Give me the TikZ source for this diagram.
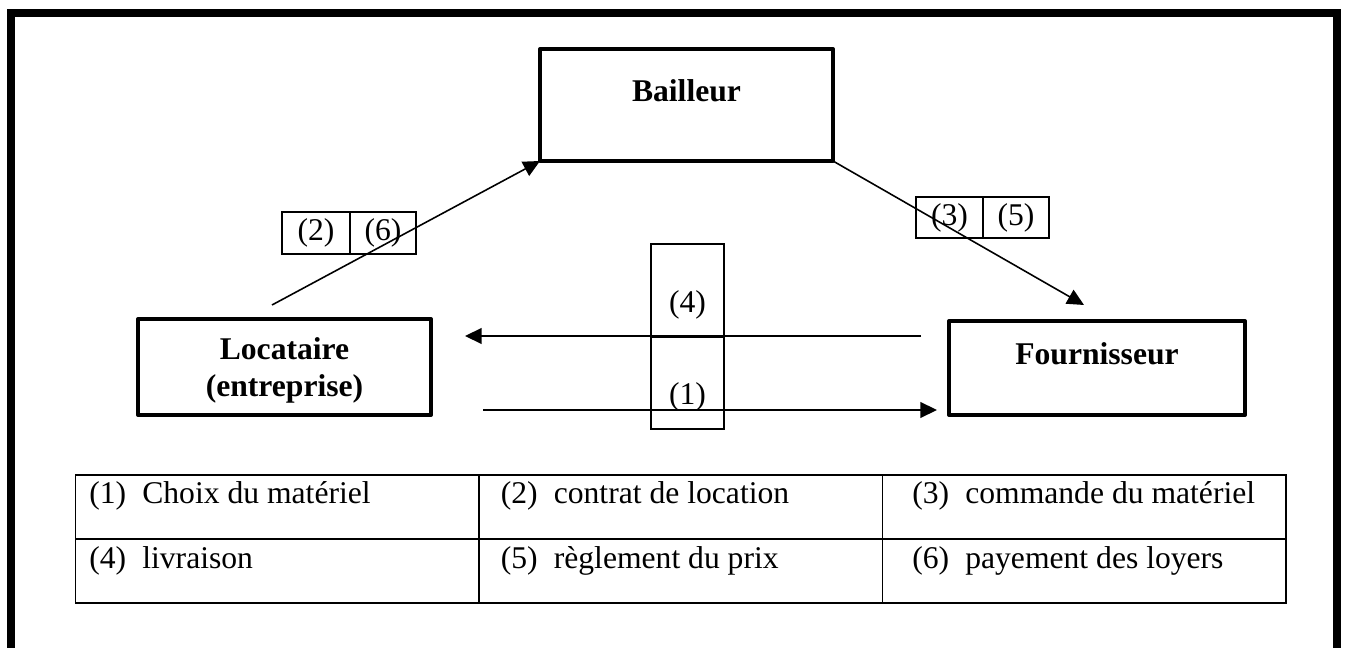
\documentclass[tikz,border=0pt]{standalone}
\usepackage{fontspec}
\setmainfont{Liberation Serif}
\usetikzlibrary{positioning,arrows.meta}

\begin{document}
\begin{tikzpicture}[x=0.02cm,y=-0.02cm,
  txt/.style={font=\fontsize{18}{22}\selectfont,inner sep=0pt},
  boldtxt/.style={font=\fontsize{18}{22}\selectfont\bfseries,inner sep=0pt},
  partybox/.style={draw,line width=2.3pt,line join=round,inner sep=0pt,outer sep=0pt},
  tagbox/.style={draw,line width=0.75pt,inner sep=0pt,outer sep=0pt,font=\fontsize{18}{22}\selectfont},
  cellbox/.style={draw,line width=0.75pt,inner sep=0pt,outer sep=0pt,minimum width=8.07cm,minimum height=1.28cm},
  flow/.style={line width=0.9pt,-{Triangle[length=9.5pt,width=9pt]}}]
  \useasboundingbox (0,0) rectangle (1346,648);
  \draw[line width=4pt] (11,700) -- (11,13) -- (1337,13) -- (1337,700);

  \node[partybox,minimum width=5.86cm,minimum height=2.24cm] (bail) at (686.5,105) {};
  \node[partybox,minimum width=5.86cm,minimum height=1.92cm] (loc) at (284.5,367) {};
  \node[partybox,minimum width=5.92cm,minimum height=1.88cm] (four) at (1097,368) {};
  \node[boldtxt,anchor=base] (bailtxt) at (bail.center |- 0,102) {Bailleur};
  \node[boldtxt,anchor=base] (loctxt) at (loc.center |- 0,360) {Locataire};
  \begin{scope}
    \clip (140,366) rectangle (430,404);
    \node[boldtxt,anchor=base] (enttxt) at (loc.center |- 0,397) {(entreprise)};
  \end{scope}
  \node[boldtxt,anchor=base] (fourtxt) at (four.center |- 0,365) {Fournisseur};

  \node[tagbox,minimum width=1.36cm,minimum height=0.84cm] (t2) at (316,233) {(2)};
  \node[tagbox,minimum width=1.32cm,minimum height=0.84cm,right=0pt of t2] (t6) {(6)};
  \node[tagbox,minimum width=1.34cm,minimum height=0.82cm] (t3) at (949.5,217.5) {(3)};
  \node[tagbox,minimum width=1.32cm,minimum height=0.82cm,right=0pt of t3] (t5) {(5)};
  \node[tagbox,minimum width=1.46cm,minimum height=1.86cm] (v4) at (687.5,290.5) {};
  \node[tagbox,minimum width=1.46cm,minimum height=1.84cm,below=0pt of v4] (v1) {};
  \node[txt] (v4txt) at (687.5,305) {(4)};
  \node[txt] (v1txt) at (687.5,397) {(1)};

  \coordinate (locup) at (272,305);
  \coordinate (fourup) at (1084,305);
  \coordinate (fourleft) at (921,336);
  \coordinate (locright) at (465,336);
  \coordinate (locright2) at (483,410);
  \coordinate (fourleft2) at (937,410);
  \draw[flow] (locup) -- (bail.south west);
  \draw[flow] (bail.south east) -- (fourup);
  \draw[flow] (fourleft) -- (locright);
  \draw[flow] (locright2) -- (fourleft2);

  \foreach \r in {0,1}
    \foreach \c in {0,1,2}
      \node[cellbox] (cell\r\c) at (277+403.7*\c,507+64*\r) {};
  \foreach \num/\txt in {1/Choix du matériel,2/contrat de location,3/commande du matériel,
    4/livraison,5/règlement du prix,6/payement des loyers}
  {
    \pgfmathtruncatemacro\col{mod(\num-1,3)}
    \pgfmathtruncatemacro\row{(\num-1)/3}
    \node[txt,anchor=base west] (item\num) at (89+411.5*\col,503+65*\row) {\makebox[1.06cm][l]{(\num)}\txt};
  }
\end{tikzpicture}
\end{document}
